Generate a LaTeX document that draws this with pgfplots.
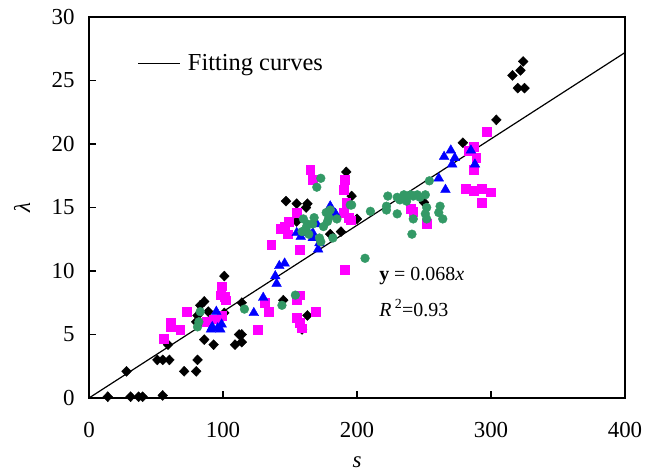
\documentclass[border=0pt]{standalone}
\usepackage{fontspec}
\setmainfont{Liberation Serif}
\usepackage{pgfplots}
\pgfplotsset{compat=1.18}
\definecolor{ptgreen}{HTML}{339966}
\definecolor{ptmag}{HTML}{FF00FF}
\newcommand{\bigfont}{\fontsize{23}{27}\selectfont}
\newcommand{\legfont}{\fontsize{24.5}{28}\selectfont}
\newcommand{\midfont}{\fontsize{20}{24}\selectfont}

\begin{document}
\begin{tikzpicture}
\begin{axis}[
    name=ax,
    scale only axis, width=536bp, height=381bp,
    xmin=0, xmax=400, ymin=0, ymax=30,
    xtick={0,100,...,400}, ytick={0,5,...,30},
    tick align=inside, xtick pos=bottom, ytick pos=left,
    major tick length=7bp,
    axis line style={line width=1.3bp}, tick style={line width=1.2bp, black},
    /pgf/number format/assume math mode=true,
    tick label style={font=\bigfont},
    xticklabel style={yshift=-21bp},
    yticklabel style={xshift=-11bp},
    xlabel={\textit{s}}, ylabel={\textit{λ}},
    label style={font=\bigfont},
    xlabel style={at={(axis description cs:0.5,-0.168)}, anchor=center},
    ylabel style={at={(axis description cs:-0.125,0.5)}, anchor=center},
    legend style={draw=none, fill=none, font=\legfont,
                  at={(axis description cs:0.085,0.879)}, anchor=west},
    legend image code/.code={\draw[#1] (0bp,0bp) -- (42bp,0bp); \path (47bp,0bp);},
    clip=false,
]
% black diamonds
\addplot[only marks, mark=diamond*, mark size=5bp, black,
         mark options={xscale=1.3}, forget plot] table {
x y
14 0.1
31 0.1
37 0.1
40 0.1
55 0.2
28 2.1
51 3.0
55 3.0
60 3.0
71 2.1
80 2.1
81 3.0
59 4.2
86 4.6
93 4.2
109 4.2
112 5.0
114 5.0
114 4.4
101 9.6
86 7.6
83 7.3
81 6.5
89 6.8
101 6.7
114 7.5
145 7.7
80 6.0
163 6.5
159 5.4
147 15.5
155 15.3
163 15.3
155 13.9
162 15.0
192 17.8
196 15.9
200 14.1
188 13.1
180 12.9
250 15.4
279 20.1
304 21.9
316 25.4
322 25.8
324 26.5
320 24.4
325 24.4
};
% magenta squares
\addplot[only marks, mark=square*, mark size=4.4bp, ptmag, forget plot] table {
x y
56 4.7
61 5.9
61 5.6
68 5.4
73 6.8
88 6.0
93 6.2
96 6.2
99 6.5
98 8.1
99 8.8
101 8.0
102 7.7
126 5.4
131 7.5
134 6.8
136 12.1
143 13.3
146 13.5
148 12.9
149 13.9
155 14.6
157 11.7
157 8.1
155 7.7
155 6.3
157 5.9
159 5.5
169 6.8
165 18.0
167 17.2
191 17.2
190 16.4
192 15.4
190 14.6
194 14.2
195 14.0
191 10.1
240 14.9
242 14.7
252 13.7
281 16.5
287 16.3
293 16.5
300 16.2
293 15.4
287 18.0
289 18.9
283 19.5
287 19.8
297 21.0
};
% blue triangles
\addplot[only marks, mark=triangle*, mark size=5.6bp, blue, forget plot] table {
x y
91 5.4
92 5.6
95 6.8
96 5.5
98 5.4
99 5.8
123 6.7
130 7.9
139 9.6
140 9.0
142 10.4
146 10.6
155 13.0
158 12.7
164 13.0
167 12.6
167 13.0
170 13.7
172 12.2
171 11.7
180 15.1
184 14.5
261 17.3
266 16.4
265 19.0
270 19.5
273 18.9
271 18.4
285 19.5
288 18.4
};
% green circles
\addplot[only marks, mark=*, mark size=4.4bp, ptgreen, forget plot] table {
x y
81 5.6
82 6.0
83 6.8
116 7.0
144 7.3
154 8.1
159 13.1
160 14.1
162 13.4
163 13.7
164 12.9
167 13.7
168 14.2
170 16.6
173 17.3
172 12.6
173 12.3
175 13.5
177 14.6
178 13.9
179 14.2
180 14.8
182 12.6
185 14.1
195 15.2
196 15.2
206 11.0
210 14.7
222 15.1
222 14.8
223 15.9
230 15.8
230 14.5
232 15.6
235 16.0
237 15.5
240 16.0
241 12.9
242 14.1
242 15.9
245 16.0
247 15.8
251 16.0
251 14.5
252 15.0
252 14.1
254 17.1
261 14.6
262 15.1
264 14.1
};
% fitted line y = 0.068x
\addplot[black, line width=1.2bp] coordinates {(0,0) (400,27.2)};
\addlegendentry{Fitting curves}
\node[anchor=west, font=\midfont] at (axis cs:214,9.6) {\textbf{y} = 0.068\textit{x}};
\node[anchor=west, font=\midfont] at (axis cs:214,7.1) {\textit{R}\,\textsuperscript{2}=0.93};
\end{axis}
\path (ax.south west) ++(-89bp,-76bp);
\path (ax.north east) ++(28bp,17bp);
\end{tikzpicture}
\end{document}
